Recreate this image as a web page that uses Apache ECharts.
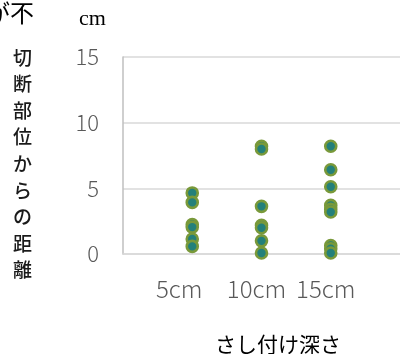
<!DOCTYPE html>
<html>
<head>
<meta charset="utf-8">
<script src="https://cdn.jsdelivr.net/npm/echarts@6/dist/echarts.min.js"></script>
<style>
  html, body { margin: 0; padding: 0; background: #fff; }
  #chart { width: 400px; height: 354px; }
</style>
</head>
<body>
<div id="chart"></div>
<script>
  // さし付け深さごとの切断部位からの距離 (cm)
  const categories = ['5cm', '10cm', '15cm'];
  const depth5 = [4.65, 3.93, 2.25, 2.05, 1.14, 0.58];
  const depth10 = [8.2, 8.0, 3.63, 2.18, 2.0, 1.0, 0.08];
  const depth15 = [8.2, 6.42, 5.12, 3.7, 3.4, 3.2, 0.65, 0.4, 0.08];
  const yTicks = [0, 5, 10, 15];

  const columns = [depth5, depth10, depth15];
  const points = [];
  columns.forEach((col, i) => {
    col.forEach(v => points.push([i + 1, v]));
  });

  const chart = echarts.init(document.getElementById('chart'), null, {renderer: 'canvas'});
  const jp = '"Noto Sans CJK JP", "Noto Sans", sans-serif';
  const lbl = {fontSize: 24, color: '#595959', fontFamily: jp, fontWeight: 300};

  const option = {
    animation: false,
    backgroundColor: '#fff',
    grid: {
      left: 123,
      top: 57,
      width: 286,
      height: 197
    },
    xAxis: {
      type: 'value',
      min: 0,
      max: 4,
      interval: 1,
      axisLine: {show: true, lineStyle: {color: '#d9d9d9', width: 1.5}},
      axisTick: {show: false},
      splitLine: {show: false},
      axisLabel: {
        margin: 23,
        color: '#595959',
        fontFamily: jp,
        fontWeight: 300,
        fontSize: 24,
        showMinLabel: false,
        showMaxLabel: false,
        formatter: v => {
          const name = categories[v - 1];
          if (!name) return '';
          return '{c' + v + '|' + name + '}';
        },
        rich: {
          c1: Object.assign({padding: [0, 26, 0, 0]}, lbl),
          c2: Object.assign({padding: [0, 10, 0, 0]}, lbl),
          c3: Object.assign({padding: [0, 10, 0, 0]}, lbl)
        }
      }
    },
    yAxis: {
      type: 'value',
      min: yTicks[0],
      max: yTicks[yTicks.length - 1],
      interval: 5,
      axisLine: {show: true, lineStyle: {color: '#bfbfbf', width: 1.5}},
      axisTick: {show: false},
      splitLine: {show: true, lineStyle: {color: '#d9d9d9', width: 1.5}},
      axisLabel: {
        margin: 24,
        color: '#595959',
        fontFamily: jp,
        fontWeight: 300,
        fontSize: 22
      }
    },
    graphic: [
      {
        type: 'text',
        left: 13,
        top: 44,
        style: {
          text: '切断部位からの距離'.split('').join('\n'),
          font: '500 19px ' + jp,
          lineHeight: 26.6,
          fill: '#1a1a1a',
          align: 'center'
        }
      },
      {
        type: 'text',
        right: 400 - 34,
        top: 1,
        style: {
          text: '発根のばらつきが不',
          font: '24px ' + jp,
          fill: '#000'
        }
      },
      {
        type: 'text',
        left: 79,
        top: 8,
        style: {
          text: 'cm',
          font: '22px "Liberation Serif", "DejaVu Serif", serif',
          fill: '#000'
        }
      },
      {
        type: 'text',
        left: 215,
        top: 334,
        style: {
          text: 'さし付け深さ',
          font: '21px ' + jp,
          fill: '#000'
        }
      }
    ],
    series: [{
      type: 'scatter',
      data: points,
      symbol: 'circle',
      symbolSize: 11,
      itemStyle: {
        color: '#23807a',
        borderColor: '#79993a',
        borderWidth: 2.6,
        opacity: 1
      }
    }]
  };

  chart.setOption(option);
</script>
</body>
</html>
